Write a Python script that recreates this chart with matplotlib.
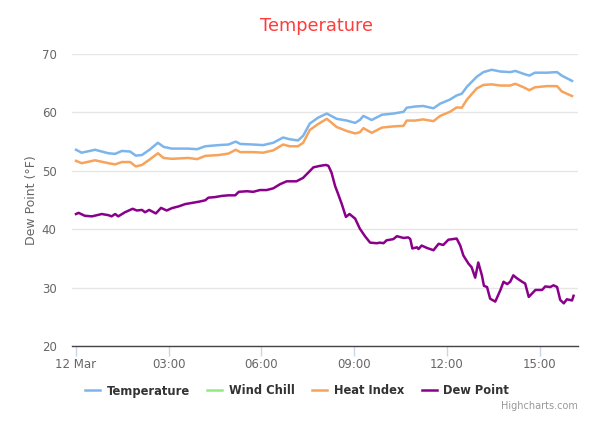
import matplotlib
matplotlib.use("Agg")
import matplotlib.pyplot as plt

# minutes after midnight, 12 Mar
temp_t = [0, 11, 37, 63, 76, 89, 105, 116, 128, 144, 159, 170, 186, 218, 235, 251, 277, 296, 310,
          319, 344, 363, 383, 402, 415, 431, 441, 454, 470, 487, 506, 526, 542, 551, 558, 574, 594,
          616, 636, 642, 658, 674, 694, 707, 726, 739, 749, 759, 778, 791, 807, 824, 843, 853, 869,
          880, 891, 914, 934, 943, 963]
temperature = [53.6, 53.1, 53.6, 53.0, 52.9, 53.4, 53.3, 52.6, 52.7, 53.7, 54.8, 54.1, 53.8, 53.8,
               53.7, 54.2, 54.4, 54.5, 55.0, 54.6, 54.5, 54.4, 54.8, 55.7, 55.4, 55.2, 56.0, 58.1,
               59.1, 59.8, 58.9, 58.6, 58.2, 58.7, 59.4, 58.7, 59.6, 59.8, 60.1, 60.8, 61.0, 61.1,
               60.7, 61.5, 62.2, 62.9, 63.2, 64.4, 66.1, 66.9, 67.3, 67.0, 66.9, 67.1, 66.6, 66.3,
               66.8, 66.8, 66.9, 66.3, 65.4]
heat_index = [51.7, 51.3, 51.8, 51.3, 51.1, 51.5, 51.5, 50.75, 51.0, 52.0, 53.0, 52.2, 52.05, 52.2,
              52.0, 52.55, 52.7, 52.95, 53.6, 53.2, 53.2, 53.1, 53.5, 54.5, 54.2, 54.2, 54.8, 57.0,
              58.0, 58.9, 57.5, 56.8, 56.4, 56.6, 57.3, 56.5, 57.4, 57.6, 57.7, 58.6, 58.6, 58.8,
              58.5, 59.4, 60.1, 60.85, 60.8, 62.2, 64.1, 64.7, 64.8, 64.6, 64.6, 64.9, 64.3, 63.8,
              64.3, 64.5, 64.5, 63.6, 62.8]
wind_chill_t = []
wind_chill = []

dew_t = [0, 5, 17, 31, 50, 63, 69, 76, 82, 95, 110, 118, 128, 134, 142, 155, 165, 176, 186, 199,
         212, 225, 238, 251, 257, 270, 283, 296, 309, 316, 332, 344, 357, 370, 383, 396, 409, 428,
         441, 451, 461, 474, 485, 490, 496, 503, 509, 516, 524, 531, 542, 551, 561, 571, 584, 590,
         597, 603, 616, 623, 636, 645, 649, 653, 662, 665, 671, 681, 694, 704, 713, 723, 739, 746,
         752, 762, 768, 775, 781, 788, 792, 798, 804, 814, 824, 830, 837, 843, 849, 856, 866, 872,
         879, 892, 905, 911, 921, 927, 934, 940, 947, 953, 963, 966]
dew_point = [42.6, 42.8, 42.3, 42.2, 42.6, 42.4, 42.2, 42.6, 42.2, 42.9, 43.5, 43.2, 43.3, 42.9,
             43.3, 42.7, 43.65, 43.2, 43.6, 43.9, 44.3, 44.5, 44.7, 44.95, 45.4, 45.5, 45.7, 45.8,
             45.8, 46.4, 46.5, 46.4, 46.7, 46.7, 47.0, 47.7, 48.2, 48.2, 48.8, 49.7, 50.6, 50.85,
             51.0, 50.85, 49.7, 47.4, 46.0, 44.3, 42.1, 42.6, 41.8, 40.1, 38.8, 37.7, 37.6, 37.7,
             37.6, 38.1, 38.3, 38.8, 38.5, 38.6, 38.3, 36.7, 36.9, 36.6, 37.2, 36.8, 36.4, 37.5,
             37.3, 38.2, 38.4, 37.2, 35.5, 34.1, 33.5, 31.7, 34.3, 32.1, 30.3, 30.1, 28.1, 27.6,
             29.6, 31.0, 30.6, 31.0, 32.1, 31.6, 31.0, 30.7, 28.4, 29.6, 29.6, 30.2, 30.1, 30.4,
             30.1, 27.9, 27.3, 28.0, 27.8, 28.6]

tick_minutes = [0, 180, 360, 540, 720, 900]
tick_labels = ["12 Mar", "03:00", "06:00", "09:00", "12:00", "15:00"]

plt.rcParams["font.family"] = ["DejaVu Sans"]

fig = plt.figure(figsize=(6.1, 4.25), dpi=100)
ax = fig.add_axes([72 / 610, 1 - 346 / 425, (578 - 72) / 610, (346 - 54) / 425])

ax.plot(temp_t, temperature, color="#7cb5ec", lw=1.8, label="Temperature")
ax.plot(wind_chill_t, wind_chill, color="#90ed7d", lw=1.8, label="Wind Chill")
ax.plot(temp_t, heat_index, color="#f7a35c", lw=1.8, label="Heat Index")
ax.plot(dew_t, dew_point, color="#8b008b", lw=1.8, label="Dew Point")

ax.set_xlim(-7.8, 974.6)
ax.set_ylim(20, 70)
ax.set_yticks([20, 30, 40, 50, 60, 70])
ax.set_xticks(tick_minutes)
ax.set_xticklabels(tick_labels)
ax.grid(axis="y", color="#e6e6e6", lw=1)
ax.set_axisbelow(True)
for s in ["top", "right", "left"]:
    ax.spines[s].set_visible(False)
ax.spines["bottom"].set_color("#444444")
ax.spines["bottom"].set_linewidth(1)
ax.tick_params(axis="y", length=0, pad=11, labelsize=8.5, labelcolor="#666666")
ax.tick_params(axis="x", length=7, width=1, color="#ccd6eb", pad=2, labelsize=8.5,
               labelcolor="#666666")
ax.set_ylabel("Dew Point (°F)", color="#666666", fontsize=9, labelpad=3)

fig.text(317 / 610, 1 - 26 / 425, "Temperature", ha="center", va="center", fontsize=12.8,
         color="#ff3b3b")

fig.legend(loc="center", bbox_to_anchor=(297 / 610, 1 - 391 / 425), ncol=4, frameon=False,
           prop={"weight": "bold", "size": 8.3}, labelcolor="#333333", handlelength=1.3,
           handletextpad=0.6, columnspacing=1.5)

fig.text(578 / 610, 1 - 406 / 425, "Highcharts.com", ha="right", va="center", fontsize=7,
         color="#999999")

fig.savefig("out.png", dpi=100)
